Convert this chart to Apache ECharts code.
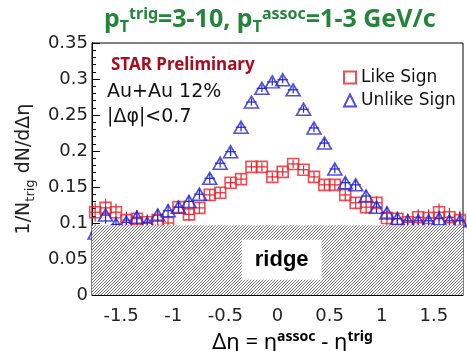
<!DOCTYPE html>
<html>
<head>
<meta charset="utf-8">
<script src="https://cdn.jsdelivr.net/npm/echarts@6/dist/echarts.min.js"></script>
<style>
  html, body { margin: 0; padding: 0; background: #fff; }
  #chart { width: 467px; height: 351px; }
</style>
</head>
<body>
<div id="chart"></div>
<script>
// bin centres in delta-eta
const etaBins = [-1.75, -1.65, -1.55, -1.45, -1.35, -1.25, -1.15, -1.05, -0.95, -0.85, -0.75, -0.65,
  -0.55, -0.45, -0.35, -0.25, -0.15, -0.05, 0.05, 0.15, 0.25, 0.35, 0.45, 0.55,
  0.65, 0.75, 0.85, 0.95, 1.05, 1.15, 1.25, 1.35, 1.45, 1.55, 1.65, 1.75];

// like sign (red squares)
const likeSign = [0.115, 0.121, 0.115, 0.104, 0.106, 0.101, 0.104, 0.100, 0.122, 0.112, 0.121, 0.139,
  0.142, 0.156, 0.161, 0.178, 0.178, 0.164, 0.171, 0.182, 0.174, 0.164, 0.153, 0.153,
  0.139, 0.128, 0.122, 0.128, 0.107, 0.106, 0.101, 0.108, 0.107, 0.115, 0.108, 0.104];
const likeErr = [0.013, 0.013, 0.012, 0.012, 0.011, 0.011, 0.010, 0.010, 0.009, 0.009, 0.008, 0.008,
  0.007, 0.007, 0.007, 0.006, 0.006, 0.006, 0.006, 0.006, 0.006, 0.007, 0.007, 0.007,
  0.008, 0.008, 0.009, 0.009, 0.010, 0.010, 0.011, 0.011, 0.012, 0.012, 0.013, 0.013];

// unlike sign (blue triangles)
const unlikeSign = [0.086, 0.111, 0.098, 0.101, 0.108, 0.100, 0.111, 0.117, 0.122, 0.130, 0.140, 0.162,
  0.183, 0.199, 0.233, 0.268, 0.287, 0.296, 0.299, 0.285, 0.258, 0.232, 0.211, 0.175,
  0.156, 0.153, 0.1375, 0.122, 0.114, 0.106, 0.103, 0.103, 0.103, 0.106, 0.103, 0.103];
const unlikeErr = [0.012, 0.012, 0.011, 0.011, 0.010, 0.010, 0.009, 0.009, 0.008, 0.008, 0.007, 0.007,
  0.006, 0.006, 0.006, 0.005, 0.005, 0.005, 0.005, 0.005, 0.005, 0.006, 0.006, 0.006,
  0.007, 0.007, 0.008, 0.008, 0.009, 0.009, 0.010, 0.010, 0.011, 0.011, 0.012, 0.012];

const xTickLabels = [-1.5, -1, -0.5, 0, 0.5, 1, 1.5];
const binHalfWidth = 0.05;
const ridgeLevel = 0.097;
const xMin = -1.78, xMax = 1.78;

const RED = '#e8232c';
const BLUE = '#2424d4';

// minor ticks every 0.1
const xMinorTicks = [];
for (let i = -17; i <= 17; i++) xMinorTicks.push(i / 10);

// hatch pattern for the ridge band
const pat = document.createElement('canvas');
pat.width = 3; pat.height = 3;
const g = pat.getContext('2d');
g.fillStyle = '#ffffff';
g.fillRect(0, 0, 3, 3);
g.strokeStyle = '#555';
g.lineWidth = 0.8;
g.beginPath();
g.moveTo(0, 3); g.lineTo(3, 0);
g.moveTo(-1, 1); g.lineTo(1, -1);
g.moveTo(2, 4); g.lineTo(4, 2);
g.stroke();

function errorBars(color) {
  return function (params, api) {
    const x = api.value(0), y = api.value(1), e = api.value(2);
    const c = api.coord([x, y]);
    const lo = api.coord([x, y - e]);
    const hi = api.coord([x, y + e]);
    const l = api.coord([x - binHalfWidth, y]);
    const r = api.coord([x + binHalfWidth, y]);
    return {
      type: 'group',
      children: [
        { type: 'line', shape: { x1: c[0], y1: lo[1], x2: c[0], y2: hi[1] }, style: { stroke: color, lineWidth: 1.2 } },
        { type: 'line', shape: { x1: l[0], y1: c[1], x2: r[0], y2: c[1] }, style: { stroke: color, lineWidth: 1.2 } }
      ]
    };
  };
}

const likePts = etaBins.map((x, i) => [x, likeSign[i]]);
const unlikePts = etaBins.map((x, i) => [x, unlikeSign[i]]);
const likeErrPts = etaBins.map((x, i) => [x, likeSign[i], likeErr[i]]);
const unlikeErrPts = etaBins.map((x, i) => [x, unlikeSign[i], unlikeErr[i]]);

const chart = echarts.init(document.getElementById('chart'));

const option = {
  animation: false,
  backgroundColor: '#fff',
  title: {
    text: 'p{sub|T}{sup|trig}=3-10, p{sub|T}{sup|assoc}=1-3 GeV/c',
    left: 99,
    top: 0,
    textStyle: {
      fontFamily: 'Noto Sans',
      fontWeight: 'bold',
      fontSize: 25,
      color: '#23843a',
      rich: {
        sub: { fontFamily: 'Noto Sans', fontWeight: 'bold', fontSize: 16, color: '#23843a', padding: [14, 0, 0, 0] },
        sup: { fontFamily: 'Noto Sans', fontWeight: 'bold', fontSize: 16, color: '#23843a', padding: [0, 0, 12, 0] }
      }
    }
  },
  legend: {
    orient: 'vertical',
    left: 338,
    top: 64,
    itemGap: 6,
    itemWidth: 12,
    itemHeight: 12,
    textStyle: { fontFamily: 'DejaVu Sans', fontSize: 17, color: '#111' },
    data: ['Like Sign', 'Unlike Sign']
  },
  grid: {
    left: 92,
    right: 4,
    top: 43,
    bottom: 56,
    outerBoundsMode: 'none',
    containLabel: false,
    show: true,
    borderColor: '#000',
    borderWidth: 1,
    backgroundColor: 'transparent'
  },
  xAxis: [
    {
      type: 'value',
      min: xMin,
      max: xMax,
      name: 'Δη = η{sup|assoc} - η{sup|trig}',
      nameLocation: 'middle',
      nameGap: 28,
      nameTextStyle: {
        fontFamily: 'Noto Sans',
        fontSize: 22,
        color: '#000',
        padding: [0, 0, 0, 30],
        rich: {
          sup: { fontFamily: 'Noto Sans', fontWeight: 'bold', fontSize: 14, color: '#000', padding: [0, 0, 12, 0] }
        }
      },
      axisLine: { show: true, onZero: false, lineStyle: { color: '#000' } },
      axisTick: { show: true, inside: true, length: 8, customValues: xTickLabels, lineStyle: { color: '#000' } },
      axisLabel: {
        customValues: xTickLabels,
        fontFamily: 'DejaVu Sans',
        fontSize: 18,
        color: '#222',
        margin: 12
      },
      splitLine: { show: false }
    },
    {
      type: 'value',
      min: xMin,
      max: xMax,
      position: 'bottom',
      axisLine: { show: false, onZero: false },
      axisTick: { show: true, inside: true, length: 4, customValues: xMinorTicks, lineStyle: { color: '#000' } },
      axisLabel: { show: false },
      splitLine: { show: false }
    }
  ],
  yAxis: {
    type: 'value',
    min: 0,
    max: 0.35,
    interval: 0.05,
    name: '1/N{sub|trig} dN/dΔη',
    nameLocation: 'middle',
    nameGap: 44,
    nameTextStyle: {
      fontFamily: 'DejaVu Sans',
      fontSize: 19,
      color: '#222',
      rich: {
        sub: { fontFamily: 'DejaVu Sans', fontSize: 13, color: '#222', padding: [12, 0, 0, 0] }
      }
    },
    axisLine: { show: true, onZero: false, lineStyle: { color: '#000' } },
    axisTick: { show: true, inside: true, length: 8, lineStyle: { color: '#000' } },
    minorTick: { show: true, splitNumber: 5, length: 4, lineStyle: { color: '#000' } },
    axisLabel: { fontFamily: 'DejaVu Sans', fontSize: 18, color: '#222', margin: 4 },
    splitLine: { show: false }
  },
  graphic: [
    { type: 'text', left: 111, top: 57, style: { text: 'STAR Preliminary', fill: '#a80d1e', font: 'bold 17px "Noto Sans"' } },
    { type: 'text', left: 107, top: 83, style: { text: 'Au+Au 12%', fill: '#111', font: '19px "DejaVu Sans"' } },
    { type: 'text', left: 107, top: 108, style: { text: '|Δφ|<0.7', fill: '#111', font: '19px "DejaVu Sans"' } }
  ],
  series: [
    {
      type: 'custom',
      name: 'likeErr',
      renderItem: errorBars(RED),
      data: likeErrPts,
      z: 2,
      silent: true
    },
    {
      type: 'custom',
      name: 'unlikeErr',
      renderItem: errorBars(BLUE),
      data: unlikeErrPts,
      z: 2,
      silent: true
    },
    {
      name: 'Like Sign',
      type: 'scatter',
      symbol: 'rect',
      symbolSize: 11,
      data: likePts,
      itemStyle: { color: 'transparent', borderColor: RED, borderWidth: 1.6 },
      z: 3
    },
    {
      name: 'Unlike Sign',
      type: 'scatter',
      symbol: 'triangle',
      symbolSize: [14, 12],
      data: unlikePts,
      itemStyle: { color: 'transparent', borderColor: BLUE, borderWidth: 1.6 },
      z: 3
    },
    {
      type: 'custom',
      name: 'ridge',
      silent: true,
      z: 5,
      clip: true,
      data: [[xMin, xMax, ridgeLevel]],
      renderItem: function (params, api) {
        const tl = api.coord([api.value(0), api.value(2)]);
        const br = api.coord([api.value(1), 0]);
        const mid = api.coord([0.04, 0.049]);
        return {
          type: 'group',
          children: [
            { type: 'rect', shape: { x: tl[0], y: tl[1], width: br[0] - tl[0], height: br[1] - tl[1] },
              style: { fill: { image: pat, repeat: 'repeat' }, stroke: null } },
            { type: 'rect', shape: { x: mid[0] - 40, y: mid[1] - 20, width: 80, height: 40 }, style: { fill: '#fff' } },
            { type: 'text', x: mid[0], y: mid[1],
              style: { text: 'ridge', fill: '#000', font: 'bold 22px "Liberation Sans"', align: 'center', verticalAlign: 'middle' } }
          ]
        };
      }
    }
  ]
};

chart.setOption(option);
</script>
</body>
</html>
